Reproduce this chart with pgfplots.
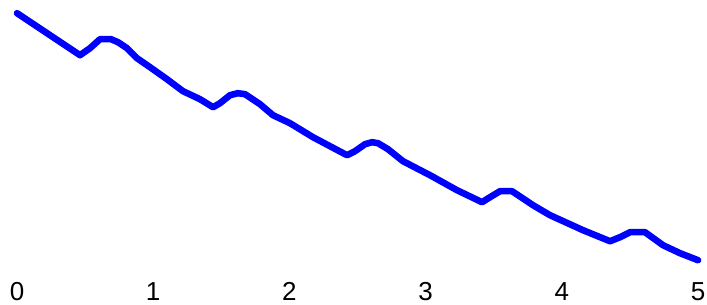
\documentclass[border=0pt]{standalone}
\usepackage{pgfplots}
\pgfplotsset{compat=1.18}
\usepackage{fontspec}
\setmainfont{Liberation Sans}
\begin{document}
\begin{tikzpicture}
\begin{axis}[
  scale only axis,
  width=353.5pt, height=152pt,
  xmin=-0.1248, xmax=5.066,
  ymin=-304, ymax=0,
  axis line style={draw=none},
  major tick length=0pt,
  ytick=\empty,
  xtick={0,1,2,3,4,5},
  /pgf/number format/assume math mode=true,
  xticklabel style={anchor=center, inner sep=0pt, yshift=6.5pt, font=\fontsize{13}{15}\selectfont, text=black},
  clip=false,
]
\addplot[color={rgb,255:red,0;green,0;blue,255}, line width=3.3pt, line join=round, line cap=round] coordinates {
(0,-13) (0.4626,-55) (0.5360,-48) (0.6094,-39) (0.6902,-39) (0.7416,-42)
(0.8076,-48) (0.8811,-58) (0.9765,-67) (1.1013,-79) (1.2188,-91) (1.3436,-99)
(1.4391,-107) (1.4905,-103) (1.5639,-95) (1.6226,-93) (1.6740,-94) (1.7841,-104)
(1.8796,-115) (2.0044,-123) (2.1733,-137) (2.2981,-146) (2.4229,-155) (2.4817,-151)
(2.5551,-144) (2.6065,-142) (2.6505,-143) (2.7240,-149) (2.8341,-161) (3.0323,-175)
(3.2305,-190) (3.4141,-202) (3.4728,-197) (3.5463,-191) (3.6344,-191) (3.7885,-205)
(3.9134,-215) (4.1557,-230) (4.3539,-241) (4.4273,-237) (4.5007,-232) (4.6109,-232)
(4.7430,-245) (4.8678,-253) (5.0,-260)
};
\end{axis}
\end{tikzpicture}
\end{document}
